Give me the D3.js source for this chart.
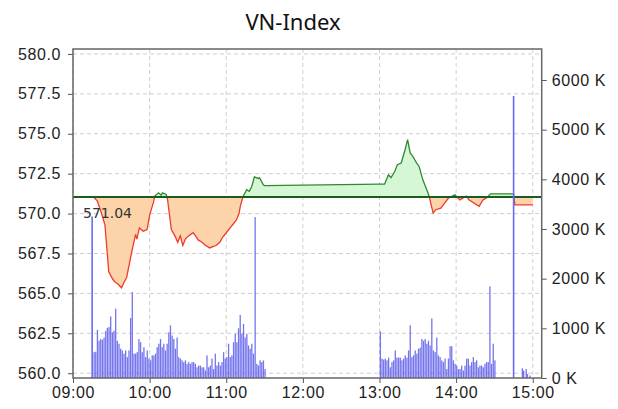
<!DOCTYPE html>
<html>
<head>
<meta charset="utf-8">
<script src="https://cdn.jsdelivr.net/npm/d3@7"></script>
<style>
body{margin:0;background:#fff;}
svg{display:block;}
</style>
</head>
<body>
<script>
// price (index points)
let priceTimes=["09:16","09:19","09:22","09:25","09:28","09:31","09:33","09:35","09:38","09:40","09:42","09:44","09:46","09:49","09:50","09:52","09:55","09:58","10:00","10:03","10:04","10:07","10:09","10:10","10:13","10:14","10:17","10:20","10:22","10:24","10:26","10:28","10:30","10:34","10:36","10:38","10:41","10:43","10:47","10:50","10:52","10:55","10:57","11:00","11:03","11:05","11:08","11:10","11:11","11:13","11:16","11:18","11:20","11:22","11:25","11:26","11:29","11:30",
"13:00","13:04","13:07","13:09","13:12","13:14","13:17","13:20","13:22","13:24","13:26","13:29","13:31","13:34","13:38","13:39","13:42","13:44","13:48","13:51","13:54","13:59","14:03","14:08","14:10","14:18","14:21","14:24","14:27","14:45","14:46","15:00"];
let priceValues=[571.04,570.8,570.1,569.3,566.35,565.9,565.7,565.6,565.35,565.7,566.0,566.8,567.6,568.7,568.4,569.1,568.9,569.0,569.9,570.7,571.1,571.3,571.15,571.3,571.2,570.9,569.0,568.57,568.2,568.6,568.0,568.4,568.57,568.8,568.6,568.35,568.2,568.05,567.85,567.95,568.0,568.2,568.5,568.8,569.1,569.3,569.6,570.0,570.45,571.04,571.5,571.4,571.7,572.3,572.2,572.25,571.8,571.75,
571.85,571.85,572.43,572.25,572.65,573.06,573.17,574.0,574.63,573.8,573.6,573.17,572.95,572.1,571.29,571.04,570.03,570.24,570.34,570.66,570.97,571.18,570.86,571.1,570.86,570.45,570.86,571.0,571.24,571.24,570.55,570.55];
let refPrice=571.04;

// volume in K, one bar every 78 s in each session
let volStepSec=78;
let amVolStart="09:16:40";
let amVol=[520,530,970,750,785,770,815,950,1010,1025,1240,920,950,1395,750,690,590,555,490,555,420,555,1210,1730,490,490,520,785,720,520,620,420,555,390,355,455,455,490,620,690,785,620,690,555,690,920,1060,855,785,590,815,420,390,355,320,355,285,320,285,320,320,285,215,250,250,215,215,150,455,215,250,390,180,490,250,320,250,320,520,390,420,690,420,455,720,890,720,1000,1270,890,1090,815,890,655,590,690,490,3240,285,250,355,320,355,180];
let pmVolStart="13:00:48";
let pmVol=[937,390,370,390,355,410,215,320,355,555,410,410,410,355,390,455,410,555,1060,420,455,555,490,590,610,785,750,785,690,750,655,1200,555,520,815,455,420,355,320,390,180,390,640,640,355,285,250,180,180,250,150,250,390,390,250,320,420,320,355,215,250,250,215,285,320,320,1845,285,690,355];
// single trades outside the sessions
let lineVolTimes=["09:15","14:45"];
let lineVols=[3250,5680];
let lateVolTimes=["14:52","14:53","14:55","14:56","14:58"];
let lateVols=[195,150,180,80,50];

let priceTicks=[560,562.5,565,567.5,570,572.5,575,577.5,580];
let volTicks=[0,1000,2000,3000,4000,5000,6000];
let timeTicks=["09:00","10:00","11:00","12:00","13:00","14:00","15:00"];

let parseT=s=>d3.timeParse(s.length>5?"%H:%M:%S":"%H:%M")(s);

let W=618,H=409;
let m={t:49,r:76.3,b:31,l:73};
let svg=d3.select("body").append("svg").attr("width",W).attr("height",H)
  .style("font-family","'DejaVu Sans',sans-serif");

let x=d3.scaleTime().domain([parseT("09:00"),parseT("15:07")]).range([m.l,W-m.r]);
let y=d3.scaleLinear().domain([559.7,580.31]).range([H-m.b,m.t]);
let yV=d3.scaleLinear().domain([0,6624]).range([H-m.b,m.t]);

svg.append("text").attr("x",293).attr("y",30).attr("text-anchor","middle")
  .style("font-family","'Noto Sans',sans-serif").style("font-size","22px").attr("fill","#111").text("VN-Index");

// grid
let grid=svg.append("g").attr("stroke","#cfcfcf").attr("stroke-dasharray","4,3").attr("stroke-width",1);
grid.selectAll(".gh").data(priceTicks).enter().append("line")
  .attr("x1",m.l).attr("x2",W-m.r).attr("y1",d=>y(d)).attr("y2",d=>y(d));
grid.selectAll(".gv").data(timeTicks.map(parseT)).enter().append("line")
  .attr("y1",m.t).attr("y2",H-m.b).attr("x1",d=>x(d)).attr("x2",d=>x(d));

let yRef=y(refPrice);
let defs=svg.append("defs");
defs.append("clipPath").attr("id","above").append("rect").attr("x",m.l).attr("y",m.t).attr("width",W-m.l-m.r).attr("height",yRef-m.t);
defs.append("clipPath").attr("id","below").append("rect").attr("x",m.l).attr("y",yRef).attr("width",W-m.l-m.r).attr("height",H-m.b-yRef);

let pts=priceTimes.map((t,i)=>[parseT(t),priceValues[i]]);
let area=d3.area().x(d=>x(d[0])).y0(yRef).y1(d=>y(d[1]));
let line=d3.line().x(d=>x(d[0])).y(d=>y(d[1]));

svg.append("path").datum(pts).attr("d",area).attr("fill","#d6f7d6").attr("clip-path","url(#above)");
svg.append("path").datum(pts).attr("d",area).attr("fill","#fdd4aa").attr("clip-path","url(#below)");
svg.append("path").datum(pts).attr("d",line).attr("fill","none").attr("stroke","#2f8a2f").attr("stroke-width",1.3).attr("clip-path","url(#above)");
svg.append("path").datum(pts).attr("d",line).attr("fill","none").attr("stroke","#f03a2e").attr("stroke-width",1.3).attr("clip-path","url(#below)");

svg.append("line").attr("x1",m.l).attr("x2",W-m.r).attr("y1",yRef).attr("y2",yRef)
  .attr("stroke","#1d5a1d").attr("stroke-width",2);
svg.append("text").attr("x",83).attr("y",yRef+21).style("font-size","14px").attr("fill","#333").text(refPrice.toFixed(2));

// volume bars
let bw=x(parseT("09:01:18"))-x(parseT("09:00"));
let bars=[];
amVol.forEach((v,i)=>bars.push([d3.timeSecond.offset(parseT(amVolStart),i*volStepSec),v]));
pmVol.forEach((v,i)=>bars.push([d3.timeSecond.offset(parseT(pmVolStart),i*volStepSec),v]));
lateVolTimes.forEach((t,i)=>bars.push([parseT(t),lateVols[i]]));
svg.append("g").selectAll("rect").data(bars).enter().append("rect")
  .attr("x",d=>x(d[0])-bw/2).attr("width",bw*0.78)
  .attr("y",d=>yV(d[1])).attr("height",d=>yV(0)-yV(d[1]))
  .attr("fill","#5c5ceb").attr("fill-opacity",0.85);
svg.append("g").selectAll("line").data(lineVolTimes.map((t,i)=>[parseT(t),lineVols[i]])).enter().append("line")
  .attr("x1",d=>x(d[0])).attr("x2",d=>x(d[0])).attr("y1",d=>yV(d[1])).attr("y2",yV(0))
  .attr("stroke","#6a6af5").attr("stroke-width",1.6);

// axes
let tickStyle=g=>{g.selectAll("text").style("font-size","16px").style("letter-spacing","0.6px").attr("fill","#222");
  g.selectAll("line").attr("stroke","#555");g.select(".domain").remove();};
svg.append("g").attr("transform","translate("+m.l+",0)")
  .call(d3.axisLeft(y).tickValues(priceTicks).tickFormat(d3.format(".1f")).tickSize(5).tickPadding(7)).call(tickStyle);
svg.append("g").attr("transform","translate("+(W-m.r)+",0)")
  .call(d3.axisRight(yV).tickValues(volTicks).tickFormat(d=>d+" K").tickSize(5).tickPadding(5)).call(tickStyle);
svg.append("g").attr("transform","translate(0,"+(H-m.b)+")")
  .call(d3.axisBottom(x).tickValues(timeTicks.map(parseT)).tickFormat(d3.timeFormat("%H:%M")).tickSize(5).tickPadding(4)).call(tickStyle);

// frame
svg.append("rect").attr("x",m.l).attr("y",m.t).attr("width",W-m.l-m.r).attr("height",H-m.t-m.b)
  .attr("fill","none").attr("stroke","#666").attr("stroke-width",1.5);
</script>
</body>
</html>
